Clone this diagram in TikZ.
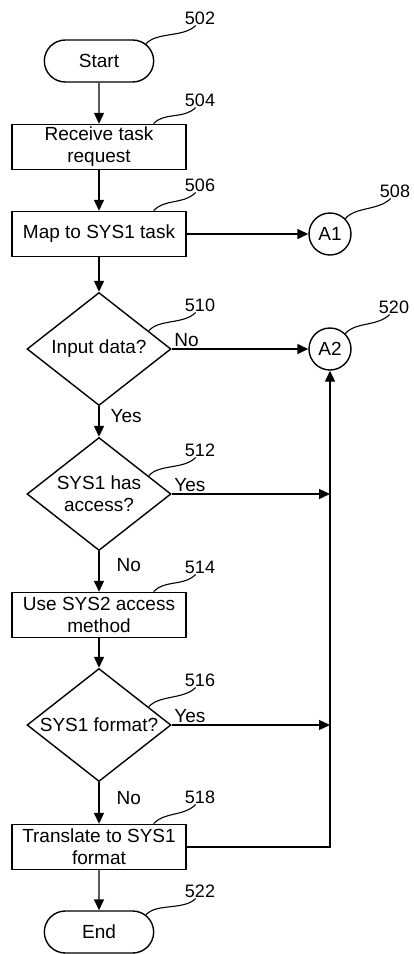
\documentclass[tikz,border=0pt]{standalone}
\usepackage{fontspec}
\setmainfont{Liberation Sans}
\usetikzlibrary{shapes.geometric,shapes.misc,arrows.meta}

\begin{document}
\begin{tikzpicture}[x=1pt,y=-1pt,
        every node/.style={font=\fontsize{19}{22}\selectfont},
        terminal/.style={draw,rounded rectangle,minimum width=116pt,minimum height=42pt,line width=1.4pt},
        process/.style={draw,rectangle,minimum width=174pt,minimum height=45pt,inner sep=1pt,align=center,line width=1.4pt},
        decision/.style={draw,diamond,aspect=1.27,minimum width=144pt,minimum height=113pt,inner sep=0pt,align=center,line width=1.4pt},
        connector/.style={draw,circle,minimum size=42pt,inner sep=0pt,line width=1.4pt},
        tag/.style={font=\fontsize{18}{20}\selectfont,inner sep=1pt},
        answer/.style={inner sep=2pt},
        flow/.style={line width=1.4pt,-{Triangle[length=11pt,width=10pt]}},
        lead/.style={line width=1.1pt}
    ]
    \useasboundingbox (0,0) rectangle (414,954);

    \node[terminal] (start) at (99,61) {Start};
    \node[process] (b504) at (99,147) {Receive task\\request};
    \node[process] (b506) at (99,234) {Map to SYS1 task};
    \node[connector] (a1) at (330,234) {A1};
    \node[decision] (d510) at (99,349) {Input data?};
    \node[connector] (a2) at (330,349) {A2};
    \node[decision] (d512) at (99,494) {SYS1 has\\access?};
    \node[process] (b514) at (99,615) {Use SYS2 access\\method};
    \node[decision] (d516) at (99,725) {SYS1 format?};
    \node[process] (b518) at (99,847) {Translate to SYS1\\format};
    \node[terminal] (stop) at (99,932) {End};
    \coordinate (j512) at (330,494);
    \coordinate (j516) at (330,725);

    \node[tag] (n502) at (200,18) {502};
    \node[tag] (n504) at (200,100) {504};
    \node[tag] (n506) at (200,185) {506};
    \node[tag] (n508) at (395,191) {508};
    \node[tag] (n510) at (200,305) {510};
    \node[tag] (n520) at (394,307) {520};
    \node[tag] (n512) at (200,450) {512};
    \node[tag] (n514) at (200,567) {514};
    \node[tag] (n516) at (200,680) {516};
    \node[tag] (n518) at (200,797) {518};
    \node[tag] (n522) at (200,891) {522};

    \draw[flow] (start) -- (b504);
    \draw[flow] (b504) -- (b506);
    \draw[flow] (b506) -- (a1);
    \draw[flow] (b506) -- (d510);
    \draw[flow] (d510) -- node[answer,pos=0,anchor=south west] {No} (a2);
    \draw[flow] (d510) -- node[answer,pos=0.32,right=9pt] {Yes} (d512);
    \draw[flow] (d512) -- node[answer,pos=0,anchor=south west] {Yes} (j512);
    \draw[flow] (d512) -- node[answer,pos=0.33,right=15pt] {No} (b514);
    \draw[flow] (b514) -- (d516);
    \draw[flow] (d516) -- node[answer,pos=0,anchor=south west] {Yes} (j516);
    \draw[flow] (d516) -- node[answer,pos=0.37,right=15pt] {No} (b518);
    \draw[flow] (b518) -| (a2);
    \draw[flow] (b518) -- (stop);

    \draw[lead] (start.20) .. controls +(10,-12) and +(-12,12) .. (n502.240);
    \draw[lead] (b504.23) .. controls +(10,-12) and +(-12,12) .. (n504.240);
    \draw[lead] (b506.23) .. controls +(10,-12) and +(-12,12) .. (n506.240);
    \draw[lead] (a1.45) .. controls +(10,-12) and +(-12,12) .. (n508.240);
    \draw[lead] (d510.20) .. controls +(10,-12) and +(-12,12) .. (n510.240);
    \draw[lead] (a2.45) .. controls +(10,-12) and +(-12,12) .. (n520.240);
    \draw[lead] (d512.20) .. controls +(10,-12) and +(-12,12) .. (n512.240);
    \draw[lead] (b514.23) .. controls +(10,-12) and +(-12,12) .. (n514.240);
    \draw[lead] (d516.20) .. controls +(10,-12) and +(-12,12) .. (n516.240);
    \draw[lead] (b518.23) .. controls +(10,-12) and +(-12,12) .. (n518.240);
    \draw[lead] (stop.20) .. controls +(10,-12) and +(-12,12) .. (n522.240);
\end{tikzpicture}
\end{document}
